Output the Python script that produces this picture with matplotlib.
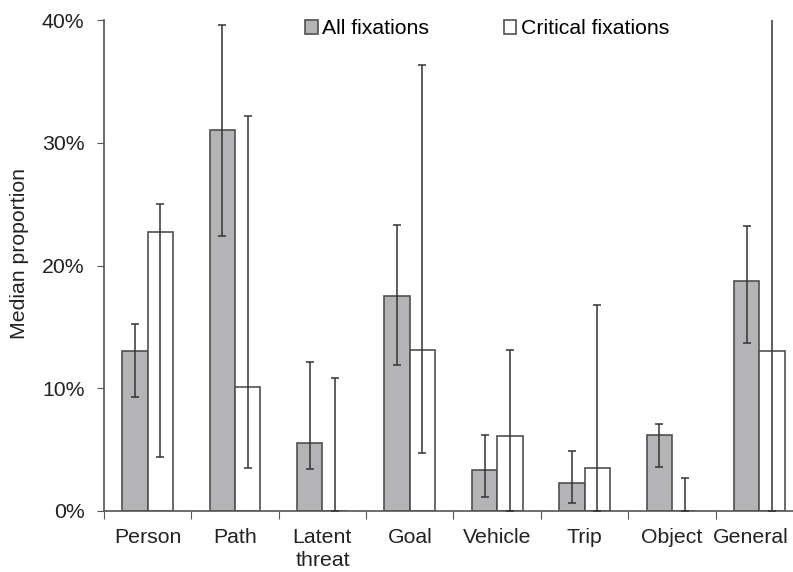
import numpy as np
import matplotlib
matplotlib.use("Agg")
import matplotlib.pyplot as plt
from matplotlib.transforms import ScaledTranslation

plt.rcParams['font.family'] = ['Liberation Sans', 'DejaVu Sans']

categories = ["Person", "Path", "Latent\nthreat", "Goal", "Vehicle", "Trip", "Object", "General"]

# median proportions (%)
all_fix = [13.0, 31.0, 5.5, 17.5, 3.3, 2.3, 6.2, 18.7]
all_hi = [15.2, 39.6, 12.1, 23.3, 6.2, 4.9, 7.1, 23.2]
all_lo = [9.3, 22.4, 3.4, 11.9, 1.1, 0.65, 3.6, 13.7]

crit_fix = [22.7, 10.1, 0.0, 13.1, 6.1, 3.5, 0.0, 13.0]
crit_hi = [25.0, 32.2, 10.8, 36.3, 13.1, 16.8, 2.7, 60.0]
crit_lo = [4.4, 3.5, 0.0, 4.7, 0.0, 0.0, 0.0, 0.0]

x = np.arange(len(categories))
w = 0.29
gray = "#b4b4b7"
edge = "#505050"
fs = 15.3

fig = plt.figure(figsize=(7.93, 5.72), dpi=100)
ax = fig.add_axes([104/793, 1-511/572, 699/793, 491/572])

ax.bar(x - w/2, all_fix, w, color=gray, edgecolor=edge, linewidth=1.2, label="All fixations", zorder=2)
ax.bar(x + w/2, crit_fix, w, color="white", edgecolor=edge, linewidth=1.2, label="Critical fixations", zorder=2)

err_a = [np.array(all_fix) - np.array(all_lo), np.array(all_hi) - np.array(all_fix)]
err_c = [np.array(crit_fix) - np.array(crit_lo), np.array(crit_hi) - np.array(crit_fix)]
ax.errorbar(x - w/2, all_fix, yerr=err_a, fmt="none", ecolor="#333333", elinewidth=1.1, capsize=3, capthick=1.1, zorder=3)
ax.errorbar(x + w/2, crit_fix, yerr=err_c, fmt="none", ecolor="#333333", elinewidth=1.1, capsize=3, capthick=1.1, zorder=3)

ax.set_xlim(-0.5, len(categories) - 0.5)
ax.set_ylim(0, 40)
ax.set_yticks([0, 10, 20, 30, 40])
ax.set_yticklabels(["0%", "10%", "20%", "30%", "40%"])
ax.set_xticks(np.arange(len(categories) + 1) - 0.5)
ax.set_xticklabels([])
ax.set_xticks(x, minor=True)
labels = ax.set_xticklabels(categories, minor=True, linespacing=1.3)
ax.tick_params(axis="x", which="minor", length=0, pad=12, labelsize=fs, colors="#222222")
ax.tick_params(axis="x", which="major", length=6, direction="out", color="#555555")
ax.tick_params(axis="y", length=5, direction="out", color="#555555", labelsize=fs, labelcolor="#222222", pad=9)

# last label pulled left so it stays inside the picture
labels[-1].set_transform(labels[-1].get_transform() + ScaledTranslation(-0.09, 0, fig.dpi_scale_trans))

for s in ["top", "right"]:
    ax.spines[s].set_visible(False)
for s in ["left", "bottom"]:
    ax.spines[s].set_color("#555555")
    ax.spines[s].set_linewidth(1.2)

ax.set_ylabel("Median proportion", fontsize=fs, color="#222222")
ax.yaxis.set_label_coords(-0.108, 0.525)

ax.legend(loc="upper center", bbox_to_anchor=(0.548, 1.04), ncol=2, frameon=False,
          fontsize=fs, handlelength=0.6, handleheight=0.6, handletextpad=0.2, columnspacing=3.5)

fig.savefig("out.png", dpi=100)
